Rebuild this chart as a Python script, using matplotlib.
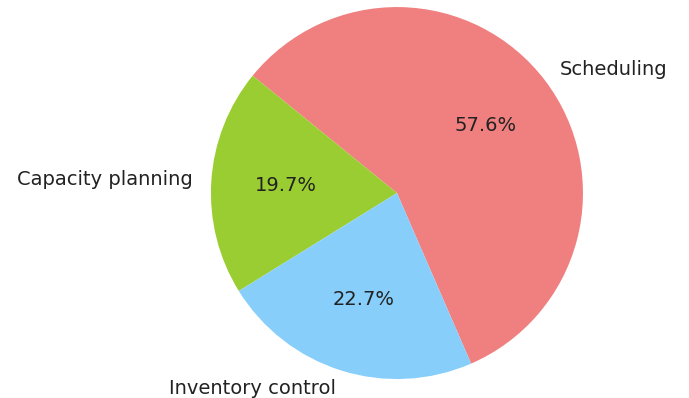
import matplotlib.pyplot as plt

labels = ["Scheduling", "Capacity planning", "Inventory control"]
shares = [57.6, 19.7, 22.7]
colors = ["lightcoral", "yellowgreen", "lightskyblue"]

fig = plt.figure(figsize=(6.89, 3.98), dpi=100)
ax = fig.add_axes([0, 0, 1, 1])

wedges, texts, autotexts = ax.pie(shares, labels=labels, colors=colors,
                                  autopct="%1.1f%%", startangle=-66.5,
                                  labeldistance=1.1, pctdistance=0.6,
                                  textprops={"fontsize": 14, "color": "#222222"})

# put the unit circle where it belongs on the canvas
ax.set_aspect("auto")
ax.set_xlim(-2.134, 1.570)
ax.set_ylim(-1.102, 1.038)
ax.axis("off")

fig.savefig("out.png", dpi=100)
